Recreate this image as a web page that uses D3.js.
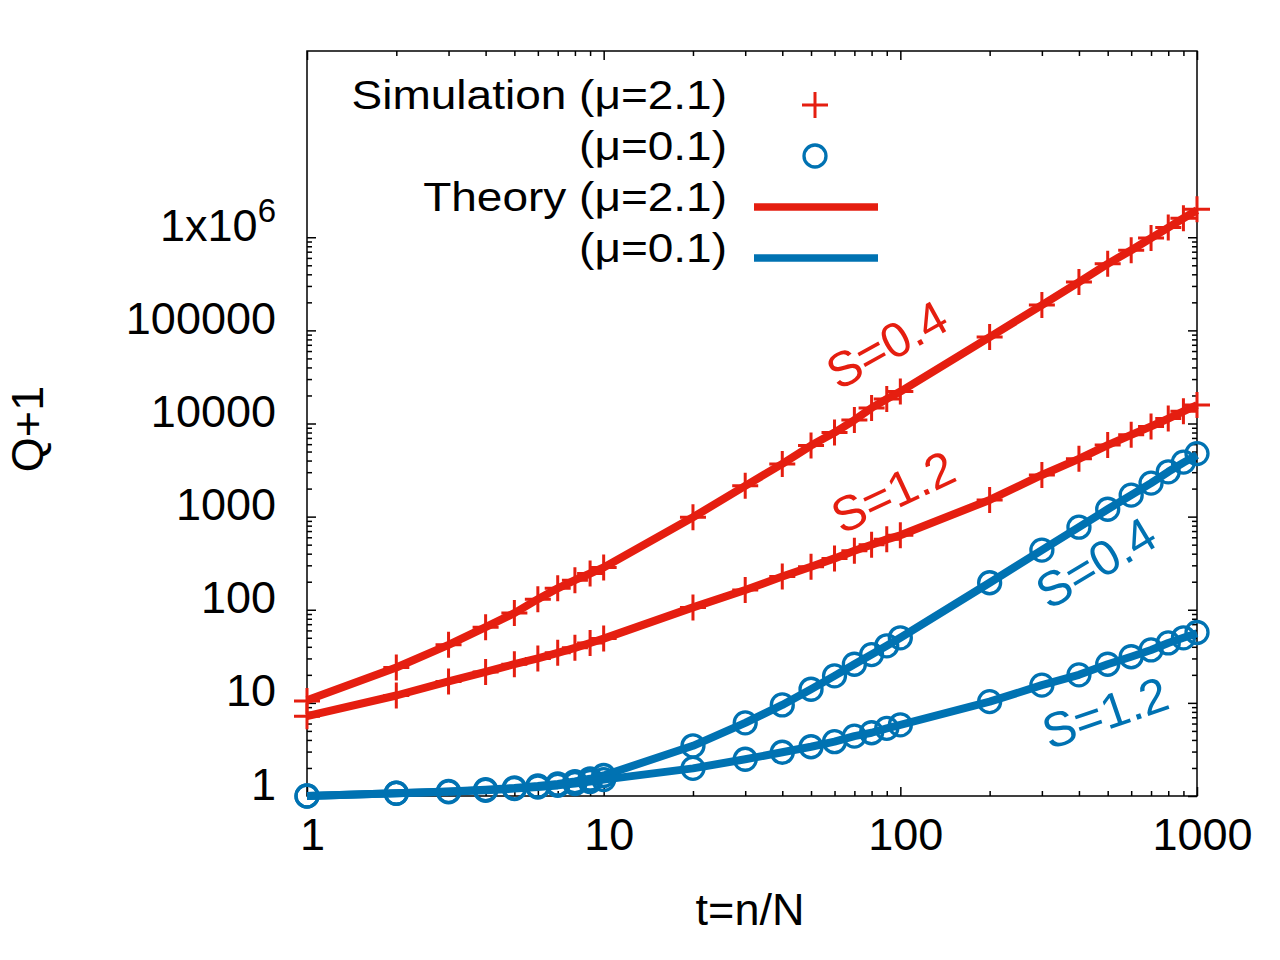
<!DOCTYPE html>
<html>
<head>
<meta charset="utf-8">
<script src="https://d3js.org/d3.v7.min.js"></script>
<style>
  body { margin: 0; background: #fff; }
  text { font-family: "Liberation Sans", Arial, sans-serif; fill: #000; }
</style>
</head>
<body>
<div id="chart"></div>
<script>
// time points of the simulation runs
var tValues = [1, 2, 3, 4, 5, 6, 7, 8, 9, 10,
               20, 30, 40, 50, 60, 70, 80, 90, 100,
               200, 300, 400, 500, 600, 700, 800, 900, 1000];

// simulation, mu=2.1
var simRedS04 = [10.5, 24, 42, 65, 92, 130, 170, 208, 245, 285,
                 985, 2140, 3680, 5800, 8000, 10900, 14700, 18300, 22000,
                 84700, 187000, 330000, 518000, 725000, 980000, 1270000, 1600000, 2000000];
var simRedS12 = [7.2, 12, 17, 21.5, 26, 30, 34.5, 39, 44, 49,
                 106, 163, 227, 290, 356, 430, 500, 570, 630,
                 1510, 2800, 4170, 5870, 7550, 9300, 11300, 13500, 15800];
// simulation, mu=0.1
var simBlueS04 = [1.0, 1.07, 1.12, 1.17, 1.22, 1.28, 1.35, 1.43, 1.53, 1.66,
                  3.46, 6.1, 9.5, 14, 19.5, 26, 33, 41, 50,
                  195, 437, 770, 1200, 1700, 2290, 3030, 3850, 4750];
var simBlueS12 = [1.0, 1.07, 1.11, 1.15, 1.2, 1.25, 1.3, 1.36, 1.43, 1.5,
                  1.98, 2.48, 2.95, 3.38, 3.83, 4.4, 4.78, 5.33, 5.8,
                  10.3, 15.5, 20, 26, 31.3, 37, 44, 50, 57];

// theory curves
var theoryRedS04 = [10.7, 24, 42, 65, 92, 130, 170, 208, 245, 285,
                    985, 2140, 3680, 5800, 8000, 10900, 14700, 18300, 22000,
                    84700, 187000, 330000, 518000, 725000, 980000, 1270000, 1600000, 1950000];
var theoryRedS12 = [7.2, 12, 17, 21.5, 26, 30, 34.5, 39, 44, 49,
                    106, 163, 227, 290, 356, 430, 500, 570, 630,
                    1510, 2800, 4170, 5870, 7550, 9300, 11300, 13500, 15800];
var theoryBlueS04 = [1.0, 1.07, 1.12, 1.17, 1.22, 1.28, 1.35, 1.43, 1.53, 1.66,
                     3.46, 6.1, 9.5, 14, 19.5, 26, 33, 41, 50,
                     195, 437, 770, 1200, 1700, 2290, 3030, 3800, 4600];
var theoryBlueS12 = [1.0, 1.07, 1.11, 1.15, 1.2, 1.25, 1.3, 1.36, 1.43, 1.5,
                     1.98, 2.48, 2.95, 3.38, 3.83, 4.4, 4.78, 5.33, 5.8,
                     10.3, 15.5, 20, 26, 31.3, 37, 44, 50, 56];

var xTickValues = [1, 10, 100, 1000];
var yTickValues = [1, 10, 100, 1000, 10000, 100000, 1000000];
var yTickLabels = ["1", "10", "100", "1000", "10000", "100000", "1x10|6"];
var legendLabels = ["Simulation (\u03bc=2.1)", "(\u03bc=0.1)", "Theory (\u03bc=2.1)", "(\u03bc=0.1)"];
var curveLabels = ["S=0.4", "S=1.2", "S=0.4", "S=1.2"];

var red = "#e51e10", blue = "#0072b2";

var svg = d3.select("#chart").append("svg")
    .attr("width", 1280)
    .attr("height", 960);

var plotLeft = 307, plotRight = 1197, plotTop = 51, plotBottom = 796;

var x = d3.scaleLog().domain([1, 1000]).range([plotLeft, plotRight]);
var y = d3.scaleLog().domain([1, 1e8]).range([plotBottom, plotTop]);

// minor ticks 2..9 in every decade
var xMinor = [], yMinor = [];
[1, 10, 100].forEach(function(d) { for (var k = 2; k < 10; k++) xMinor.push(d * k); });
[1, 10, 100, 1000, 10000, 100000].forEach(function(d) { for (var k = 2; k < 10; k++) yMinor.push(d * k); });

function styleAxis(g) {
  g.select(".domain").remove();
  g.selectAll("line").attr("stroke", "#000").attr("stroke-width", 1.5);
}

// x axes (bottom with labels, top mirror)
svg.append("g").attr("transform", "translate(0," + plotBottom + ")")
  .call(d3.axisBottom(x).tickValues(xTickValues).tickSize(-9).tickFormat(d3.format("d")))
  .call(styleAxis)
  .call(function(g) {
    g.selectAll("text")
      .attr("y", 54).attr("dy", null).attr("dx", 5)
      .style("font-size", "45px")
      .style("font-family", "'Liberation Sans', Arial, sans-serif")
      .attr("fill", "#000");
  });
svg.append("g").attr("transform", "translate(0," + plotBottom + ")")
  .call(d3.axisBottom(x).tickValues(xMinor).tickSize(-5).tickFormat(""))
  .call(styleAxis);
svg.append("g").attr("transform", "translate(0," + plotTop + ")")
  .call(d3.axisTop(x).tickValues(xTickValues).tickSize(-9).tickFormat(""))
  .call(styleAxis);
svg.append("g").attr("transform", "translate(0," + plotTop + ")")
  .call(d3.axisTop(x).tickValues(xMinor).tickSize(-5).tickFormat(""))
  .call(styleAxis);

// y axes (left, right mirror); labels drawn below
svg.append("g").attr("transform", "translate(" + plotLeft + ",0)")
  .call(d3.axisLeft(y).tickValues(yTickValues).tickSize(-9).tickFormat(""))
  .call(styleAxis);
svg.append("g").attr("transform", "translate(" + plotLeft + ",0)")
  .call(d3.axisLeft(y).tickValues(yMinor).tickSize(-5).tickFormat(""))
  .call(styleAxis);
svg.append("g").attr("transform", "translate(" + plotRight + ",0)")
  .call(d3.axisRight(y).tickValues(yTickValues).tickSize(-9).tickFormat(""))
  .call(styleAxis);
svg.append("g").attr("transform", "translate(" + plotRight + ",0)")
  .call(d3.axisRight(y).tickValues(yMinor).tickSize(-5).tickFormat(""))
  .call(styleAxis);

// y tick labels, with the superscript on 1x10^6
var yLab = svg.append("g");
yTickValues.forEach(function(v, i) {
  var parts = yTickLabels[i].split("|");
  var t = yLab.append("text")
    .attr("x", 276)
    .attr("y", y(v) + 3.5)
    .attr("text-anchor", "end")
    .style("font-size", "45px");
  t.append("tspan").text(parts[0]);
  if (parts[1]) {
    t.append("tspan").attr("dy", -19).style("font-size", "33px").text(parts[1]);
  }
});

// border
svg.append("rect")
  .attr("x", plotLeft).attr("y", plotTop)
  .attr("width", plotRight - plotLeft).attr("height", plotBottom - plotTop)
  .attr("fill", "none").attr("stroke", "#000").attr("stroke-width", 1.5);

// axis titles
svg.append("text")
  .attr("x", 750).attr("y", 925)
  .attr("text-anchor", "middle")
  .style("font-size", "45px")
  .text("t=n/N");
svg.append("text")
  .attr("transform", "translate(43,429) rotate(-90)")
  .attr("text-anchor", "middle")
  .style("font-size", "45px")
  .text("Q+1");

// simulation markers
var plusPath = "M-13,0H13M0,-13V13";
function plusMarks(vals) {
  svg.append("g").selectAll("path")
    .data(tValues)
    .enter().append("path")
      .attr("d", plusPath)
      .attr("transform", function(d, i) { return "translate(" + x(d) + "," + y(vals[i]) + ")"; })
      .attr("stroke", red)
      .attr("stroke-width", 3)
      .attr("fill", "none");
}
function circleMarks(vals) {
  svg.append("g").selectAll("circle")
    .data(tValues)
    .enter().append("circle")
      .attr("cx", function(d) { return x(d); })
      .attr("cy", function(d, i) { return y(vals[i]); })
      .attr("r", 11)
      .attr("stroke", blue)
      .attr("stroke-width", 3.3)
      .attr("fill", "none");
}
plusMarks(simRedS04);
plusMarks(simRedS12);
circleMarks(simBlueS04);
circleMarks(simBlueS12);

// theory lines
var line = d3.line()
  .x(function(d) { return x(d[0]); })
  .y(function(d) { return y(d[1]); });
function theoryLine(vals, color) {
  svg.append("path")
    .datum(tValues.map(function(t, i) { return [t, vals[i]]; }))
    .attr("fill", "none")
    .attr("stroke", color)
    .attr("stroke-width", 8)
    .attr("stroke-linejoin", "round")
    .attr("d", line);
}
theoryLine(theoryRedS04, red);
theoryLine(theoryRedS12, red);
theoryLine(theoryBlueS04, blue);
theoryLine(theoryBlueS12, blue);

// curve annotations, placed in data coordinates
var annot = [
  {t: 90, q: 70000, angle: -29, color: red},
  {t: 94.5, q: 1840, angle: -25, color: red},
  {t: 456, q: 318, angle: -31, color: blue},
  {t: 490, q: 7.8, angle: -19, color: blue}
];
annot.forEach(function(a, i) {
  svg.append("g")
    .attr("transform", "translate(" + x(a.t) + "," + y(a.q) + ") rotate(" + a.angle + ")")
    .append("text")
      .attr("y", 17)
      .attr("text-anchor", "middle")
      .style("font-size", "49px")
      .style("fill", a.color)
      .text(curveLabels[i]);
});

// legend
var legendY = [109, 160, 211, 262];
legendLabels.forEach(function(lab, i) {
  svg.append("g")
    .attr("transform", "translate(727," + legendY[i] + ") scale(1.15,1)")
    .append("text")
      .attr("text-anchor", "end")
      .style("font-size", "40px")
      .text(lab);
});
svg.append("path")
  .attr("d", plusPath)
  .attr("transform", "translate(815," + (legendY[0] - 4) + ")")
  .attr("stroke", red).attr("stroke-width", 3).attr("fill", "none");
svg.append("circle")
  .attr("cx", 815).attr("cy", legendY[1] - 4).attr("r", 11)
  .attr("stroke", blue).attr("stroke-width", 3.3).attr("fill", "none");
[[legendY[2] - 4, red], [legendY[3] - 4, blue]].forEach(function(s) {
  svg.append("line")
    .attr("x1", 754).attr("x2", 878)
    .attr("y1", s[0]).attr("y2", s[0])
    .attr("stroke", s[1]).attr("stroke-width", 7.5);
});
</script>
</body>
</html>
